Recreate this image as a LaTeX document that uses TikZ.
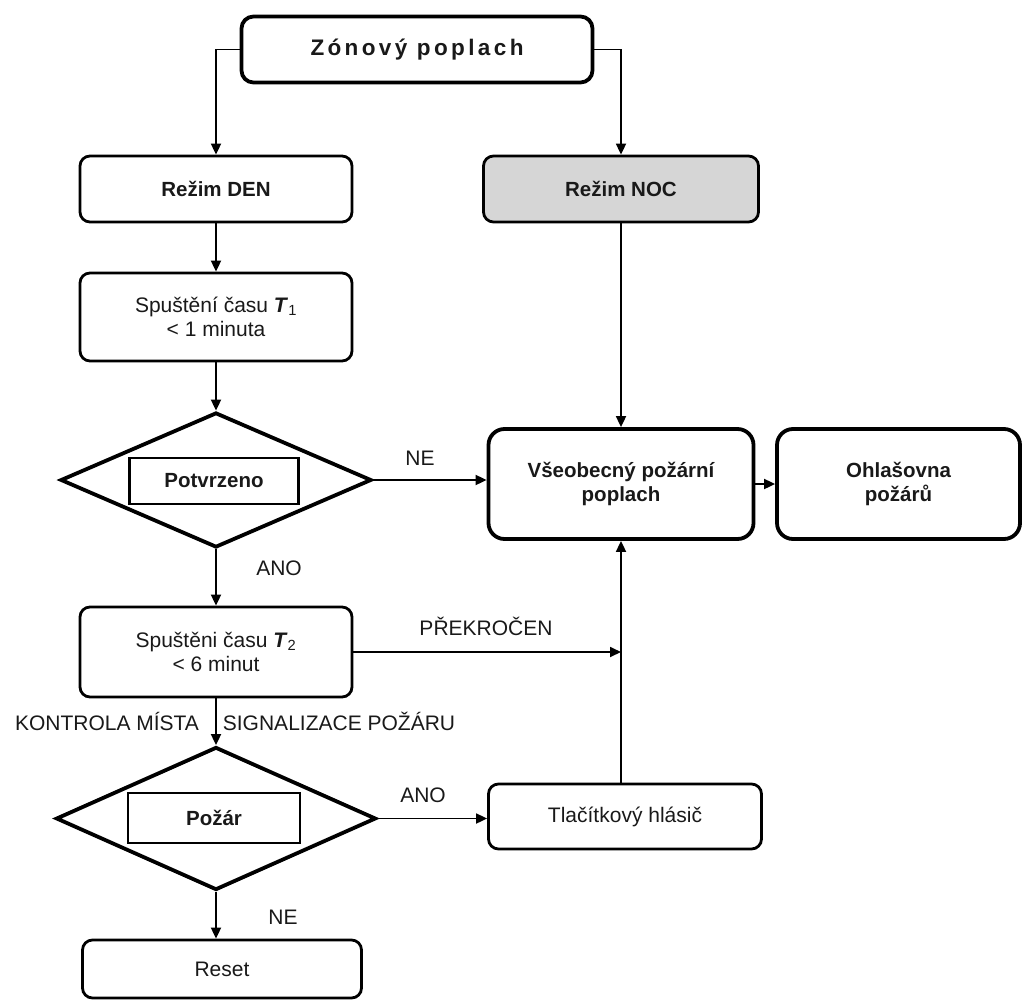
\documentclass[tikz,border=0pt]{standalone}
\usepackage{fontspec}
\setmainfont{Liberation Sans}
\usetikzlibrary{arrows.meta,shapes.geometric,calc}
\definecolor{nocgray}{RGB}{214,214,214}
\definecolor{ink}{RGB}{25,25,25}
\begin{document}
\begin{tikzpicture}[x=1pt,y=-1pt,
  txt/.style={font=\fontsize{21}{23.5}\selectfont},
  btxt/.style={font=\bfseries\fontsize{20.5}{23.5}\selectfont},
  box/.style={draw, line width=2.8pt, rounded corners=10pt, align=center, inner sep=0pt, txt, text=ink},
  bigbox/.style={box, line width=3.8pt, rounded corners=16pt, btxt},
  dec/.style={draw, diamond, line width=3.8pt, inner sep=0pt},
  inrect/.style={draw, line width=2.2pt, inner sep=0pt, btxt, text=ink},
  lbl/.style={txt, inner sep=0pt, text height=15pt, text depth=0pt, text=ink},
  conn/.style={line width=1.8pt, -{Triangle[length=11pt,width=10pt]}}
]
\useasboundingbox (0,0) rectangle (1027,1001);

% left column
\node[bigbox, minimum width=351, minimum height=66, rounded corners=12pt,
      font=\bfseries\fontsize{22.5}{26}\selectfont\addfontfeature{LetterSpace=15}] (zon) at (417,49.5) {Zónový poplach};
\node[box, btxt, minimum width=272, minimum height=66] (den) at (216,189) {Režim DEN};
\node[box, minimum width=272, minimum height=88] (t1) at (216,317) {Spuštění času \textbf{\textit{T}}\textsubscript{1}\\< 1 minuta};
\node[dec, minimum width=311, minimum height=135] (pot) at (216,480) {};
\node[inrect, minimum width=169, minimum height=46] (potr) at (214,481) {Potvrzeno};
\node[box, minimum width=272, minimum height=90] (t2) at (216,652) {Spuštěni času \textbf{\textit{T}}\textsubscript{2}\\< 6 minut};
\node[dec, minimum width=320, minimum height=143] (poz) at (216,818.5) {};
\node[inrect, minimum width=172, minimum height=50] (pozr) at (214,818) {Požár};
\node[box, minimum width=279, minimum height=58] (reset) at (222,969) {Reset};

% right column
\node[box, btxt, fill=nocgray, minimum width=275, minimum height=66] (noc) at (621,189) {Režim NOC};
\node[bigbox, minimum width=265, minimum height=110] (vs) at (621,484) {Všeobecný požární\\poplach};
\node[bigbox, minimum width=243, minimum height=110] (oh) at (898.5,484) {Ohlašovna\\požárů};
\node[box, minimum width=273, minimum height=65] (tl) at (625,816.5) {Tlačítkový hlásič};

% connectors
\draw[conn] (zon.west) -| (den.north);
\draw[conn] (zon.east) -| (noc.north);
\draw[conn] (den.south) -- (t1.north);
\draw[conn] (t1.south) -- (pot.north);
\draw[conn] (pot.east) -- (pot.east -| vs.west);
\draw[conn] (pot.south) -- (t2.north);
\draw[conn] (t2.east) -- (t2.east -| vs.south);
\draw[conn] (t2.south) -- (poz.north);
\draw[conn] (poz.east) -- (poz.east -| tl.west);
\draw[conn] (poz.south) -- (poz.south |- reset.north);
\draw[conn] (noc.south) -- (vs.north);
\draw[conn] (vs.south |- tl.north) -- (vs.south);
\draw[conn] (vs.east) -- (oh.west);

% labels
\node[lbl] (ne1) at (420,458) {NE};
\node[lbl] (ano1) at (279,568) {ANO};
\node[lbl] (prek) at (486,628) {PŘEKROČEN};
\node[lbl] (kon) at (107,723) {KONTROLA MÍSTA};
\node[lbl] (sig) at (339,723) {SIGNALIZACE POŽÁRU};
\node[lbl] (ano2) at (423,795) {ANO};
\node[lbl] (ne2) at (283,917) {NE};
\end{tikzpicture}
\end{document}
